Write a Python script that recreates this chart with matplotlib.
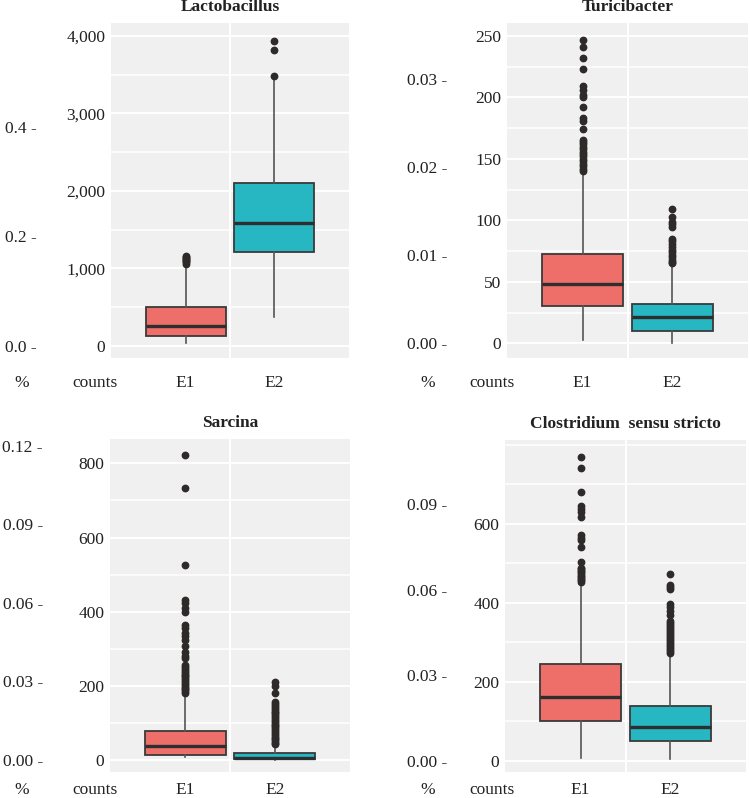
import matplotlib
matplotlib.use('Agg')
import matplotlib.pyplot as plt
from matplotlib.transforms import blended_transform_factory
from matplotlib.ticker import FuncFormatter, MultipleLocator

plt.rcParams['font.family'] = ['Liberation Serif', 'DejaVu Serif']

# ---------------- data ----------------
groups = ['E1', 'E2']
titles = ['Lactobacillus', 'Turicibacter', 'Sarcina', 'Clostridium  sensu stricto']

# Lactobacillus (counts)
lacto_e1 = dict(whislo=39, q1=125, med=258, q3=504, whishi=1045)
lacto_e1_fliers = [1060, 1075, 1090, 1105, 1120, 1135, 1150, 1160]
lacto_e2 = dict(whislo=375, q1=1207, med=1581, q3=2104, whishi=3460)
lacto_e2_fliers = [3488, 3820, 3940]

# Turicibacter (counts)
turi_e1 = dict(whislo=3, q1=30, med=48, q3=73, whishi=138)
turi_e1_fliers = [140, 142, 144, 146, 148, 150, 152, 154, 156, 158, 160, 162,
                  164, 165, 174, 181, 183, 192, 200, 202, 206, 209, 223, 232,
                  241, 247]
turi_e2 = dict(whislo=0.5, q1=10, med=21, q3=32, whishi=63)
turi_e2_fliers = [65, 66, 68, 70, 72, 74, 76, 78, 81, 83, 85, 95, 97, 99,
                  103, 109]

# Sarcina (counts)
sarc_e1 = dict(whislo=7, q1=13, med=36, q3=79, whishi=176)
sarc_e1_fliers = [180, 185, 190, 195, 200, 205, 210, 215, 220, 225, 230, 235,
                  240, 245, 250, 256, 274, 279, 292, 306, 324, 333, 342, 355,
                  364, 400, 410, 422, 431, 526, 733, 822]
sarc_e2 = dict(whislo=0, q1=2, med=6, q3=18, whishi=38)
sarc_e2_fliers = [42, 46, 50, 55, 60, 65, 70, 75, 80, 85, 90, 95, 100, 105,
                  110, 115, 120, 125, 130, 135, 140, 145, 150, 157, 180, 198,
                  211]

# Clostridium sensu stricto (counts)
clos_e1 = dict(whislo=8, q1=100, med=162, q3=245, whishi=448)
clos_e1_fliers = [453, 457, 461, 465, 469, 473, 477, 481, 485, 489, 504, 542,
                  559, 565, 572, 616, 631, 637, 644, 680, 741, 770]
clos_e2 = dict(whislo=5, q1=51, med=87, q3=140, whishi=269)
clos_e2_fliers = [273, 278, 283, 288, 293, 298, 303, 308, 313, 318, 323, 328,
                  333, 338, 343, 348, 353, 370, 380, 390, 398, 435, 440, 444,
                  473]

# count axis ticks
count_ticks = [[0, 1000, 2000, 3000, 4000],
               [0, 50, 100, 150, 200, 250],
               [0, 200, 400, 600, 800],
               [0, 200, 400, 600]]
# percent axis labels and counts per 1 %
pct_labels = [['0.0', '0.2', '0.4'],
              ['0.00', '0.01', '0.02', '0.03'],
              ['0.00', '0.03', '0.06', '0.09', '0.12'],
              ['0.00', '0.03', '0.06', '0.09']]
counts_per_pct = [7070, 7170, 7066, 7219]

panels = [(lacto_e1, lacto_e1_fliers, lacto_e2, lacto_e2_fliers),
          (turi_e1, turi_e1_fliers, turi_e2, turi_e2_fliers),
          (sarc_e1, sarc_e1_fliers, sarc_e2, sarc_e2_fliers),
          (clos_e1, clos_e1_fliers, clos_e2, clos_e2_fliers)]

# ---------------- layout ----------------
W, H = 750, 798
fig = plt.figure(figsize=(W / 100, H / 100), dpi=100)
fig.patch.set_facecolor('white')

# panel boxes in pixels: left, top, right, bottom
boxes_px = [(111, 23, 349, 358), (507, 23, 748, 358),
            (110, 439, 350, 772), (505, 440, 746, 772)]
ylims = [(-159, 4169), (-12, 260.6), (-33, 866), (-28, 812)]
minor_steps = [500, 25, 100, 100]
pct_right_px = [37, 447, 43, 447]
pct_x_px = [22, 428, 22, 428]
counts_x_px = [95, 492, 95, 492]
bottom_label_y_px = [383, 383, 790, 790]

fill_colors = ['#EE6E69', '#26B7C2']
edge_col = '#3A3A3A'
panel_bg = '#F0F0F0'
FS = 12.5

for i, (l, t, r, b) in enumerate(boxes_px):
    ax = fig.add_axes([l / W, 1 - b / H, (r - l) / W, (b - t) / H])
    ax.set_facecolor(panel_bg)
    for s in ax.spines.values():
        s.set_visible(False)

    e1, f1, e2, f2 = panels[i]
    stats = []
    for lab, st, fl in zip(groups, (e1, e2), (f1, f2)):
        d = dict(st)
        d['fliers'] = fl
        d['label'] = lab
        stats.append(d)

    bp = ax.bxp(stats, positions=[1, 2], widths=0.9, patch_artist=True,
                showcaps=False,
                boxprops=dict(edgecolor=edge_col, linewidth=1.3),
                medianprops=dict(color='#2E2E2E', linewidth=2.4),
                whiskerprops=dict(color='#555555', linewidth=1.2),
                flierprops=dict(marker='o', markerfacecolor='#2E2A2A',
                                markeredgecolor='#2E2A2A', markersize=4.6,
                                linestyle='none'),
                zorder=3)
    for patch, c in zip(bp['boxes'], fill_colors):
        patch.set_facecolor(c)

    ax.set_xlim(0.16, 2.84)
    ax.set_ylim(*ylims[i])

    ax.set_yticks(count_ticks[i])
    ax.yaxis.set_major_formatter(FuncFormatter(lambda v, p: f'{int(v):,}'))
    ax.yaxis.set_minor_locator(MultipleLocator(minor_steps[i]))
    ax.grid(which='major', axis='y', color='white', linewidth=1.4, zorder=0)
    ax.grid(which='minor', axis='y', color='white', linewidth=1.1, zorder=0)
    ax.axvline(1.5, color='white', linewidth=1.4, zorder=0)
    ax.set_axisbelow(True)
    ax.tick_params(axis='y', which='both', length=0, pad=4, labelsize=FS,
                   labelcolor='#222222')
    ax.tick_params(axis='x', which='both', length=0)

    ax.set_xticks([1, 2])
    ax.set_xticklabels([])

    # group labels below panel
    tr_x = blended_transform_factory(ax.transData, fig.transFigure)
    for pos, lab in zip([1, 2], groups):
        ax.text(pos, 1 - bottom_label_y_px[i] / H, lab, transform=tr_x,
                ha='center', va='center', fontsize=FS, color='#222222',
                clip_on=False)
    fig.text(counts_x_px[i] / W, 1 - bottom_label_y_px[i] / H, 'counts',
             ha='center', va='center', fontsize=FS, color='#222222')
    fig.text(pct_x_px[i] / W, 1 - bottom_label_y_px[i] / H, '%',
             ha='center', va='center', fontsize=FS, color='#222222')

    # percent axis
    tr_y = blended_transform_factory(fig.transFigure, ax.transData)
    for lab in pct_labels[i]:
        ax.text(pct_right_px[i] / W, float(lab) * counts_per_pct[i],
                f'{lab} -', transform=tr_y, ha='right', va='center_baseline',
                fontsize=FS, color='#222222', clip_on=False)

    ax.annotate(titles[i], xy=(0.5, 1), xycoords='axes fraction',
                xytext=(0, 11.5), textcoords='offset points',
                ha='center', va='center', fontsize=FS, fontweight='bold',
                color='#222222')

fig.savefig('out.png', dpi=100, facecolor='white')
